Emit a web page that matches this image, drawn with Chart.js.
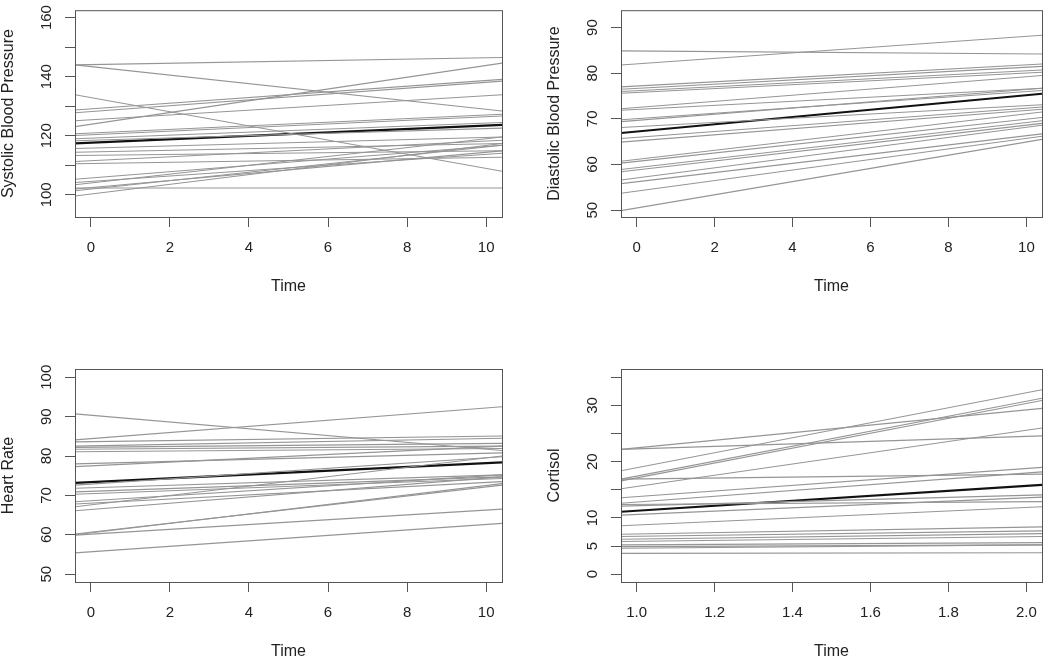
<!DOCTYPE html>
<html>
<head>
<meta charset="utf-8">
<script src="https://cdn.jsdelivr.net/npm/chart.js@4.4.1/dist/chart.umd.min.js"></script>
<style>
  html, body { margin: 0; padding: 0; background: #fff; }
  #wrap { position: relative; width: 1050px; height: 658px; }
  #wrap canvas { position: absolute; }
</style>
</head>
<body>
<div id="wrap">
  <canvas id="c1" width="525" height="329" style="left:0;top:0"></canvas>
  <canvas id="c2" width="525" height="329" style="left:525px;top:0"></canvas>
  <canvas id="c3" width="525" height="329" style="left:0;top:329px"></canvas>
  <canvas id="c4" width="525" height="329" style="left:525px;top:329px"></canvas>
</div>
<script>
// --- datos ---
// las rectas cruzan todo el panel: valores leidos en los bordes izquierdo y derecho
const timeBP = [-0.4, 10.4];
const timeCort = [0.96, 2.04];

const sbpStart = [144.0, 144.0, 133.9, 128.7, 127.8, 125.1, 123.1, 120.7, 120.1, 119.0, 118.3, 115.7, 114.4, 113.3, 111.3, 110.5, 105.3, 104.2, 103.4, 102.0, 101.4, 99.6, 102.3];
const sbpEnd   = [146.5, 128.4, 108.0, 139.1, 138.5, 133.9, 144.6, 127.3, 126.7, 124.5, 122.6, 119.6, 117.4, 114.9, 118.5, 112.7, 116.8, 114.1, 119.6, 114.9, 116.8, 117.4, 102.3];
const sbpMean  = [117.4, 123.7];

const dbpStart = [84.9, 81.8, 77.0, 76.5, 76.0, 75.6, 72.2, 71.9, 69.8, 69.4, 68.1, 65.7, 64.9, 60.7, 60.3, 58.9, 58.4, 56.6, 55.8, 53.7, 49.9];
const dbpEnd   = [84.2, 88.3, 82.0, 81.5, 80.7, 80.2, 79.5, 76.7, 76.2, 76.7, 73.1, 72.6, 72.1, 71.5, 70.3, 69.6, 69.0, 68.6, 66.7, 66.2, 65.5];
const dbpMean  = [66.9, 75.5];

const hrStart = [90.7, 84.1, 83.6, 82.5, 82.2, 81.7, 81.1, 78.0, 77.3, 72.6, 71.8, 70.9, 70.3, 68.4, 67.8, 67.1, 66.1, 60.2, 60.0, 59.9, 55.4];
const hrEnd   = [81.4, 92.5, 85.1, 84.5, 83.2, 82.5, 81.9, 80.8, 82.5, 79.8, 75.2, 74.7, 74.3, 75.2, 73.5, 80.0, 74.7, 72.6, 73.0, 66.5, 62.9];
const hrMean  = [73.2, 78.4];

const cortStart = [22.2, 22.2, 18.4, 16.9, 16.9, 16.6, 15.2, 13.6, 12.6, 12.4, 12.1, 10.5, 8.6, 7.1, 6.7, 6.2, 5.8, 5.2, 4.9, 4.6, 3.7];
const cortEnd   = [24.6, 29.5, 32.8, 17.8, 31.3, 30.9, 26.0, 19.0, 18.2, 12.9, 14.1, 13.7, 12.0, 8.4, 7.7, 7.2, 6.7, 5.6, 5.2, 5.2, 3.8];
const cortMean  = [11.1, 15.9];

// --- ticks ---
const timeTicks = [0, 2, 4, 6, 8, 10];
const cortTimeTicks = [1.0, 1.2, 1.4, 1.6, 1.8, 2.0];
const sbpTicks = [100, 110, 120, 130, 140, 150, 160];
const sbpTickLabels = [100, 120, 140, 160];
const dbpTicks = [50, 60, 70, 80, 90];
const hrTicks = [50, 60, 70, 80, 90, 100];
const cortTicks = [0, 5, 10, 15, 20, 25, 30, 35];
const cortTickLabels = [0, 5, 10, 20, 30];

const FONT = '15px "Liberation Sans", Arial, Helvetica, sans-serif';
const TITLE_FONT = '16px "Liberation Sans", Arial, Helvetica, sans-serif';
const AXIS_COLOR = '#555';

// marco, etiquetas giradas y titulos (estilo R base)
const marcoR = {
  id: 'marcoR',
  afterDraw(chart, args, o) {
    const { ctx, chartArea: a, scales } = chart;
    ctx.save();
    ctx.strokeStyle = AXIS_COLOR;
    ctx.lineWidth = 1;
    ctx.strokeRect(a.left + 0.5, a.top + 0.5, a.right - a.left, a.bottom - a.top);

    ctx.fillStyle = '#222';
    ctx.font = FONT;
    ctx.textAlign = 'center';
    ctx.textBaseline = 'middle';
    o.xLabels.forEach(v => {
      ctx.fillText(v.toFixed(o.xDecimals), scales.x.getPixelForValue(v), a.bottom + 31);
    });

    o.yLabels.forEach(v => {
      ctx.save();
      ctx.translate(a.left - 28, scales.y.getPixelForValue(v));
      ctx.rotate(-Math.PI / 2);
      ctx.fillText(String(v), 0, 0);
      ctx.restore();
    });

    ctx.font = TITLE_FONT;
    ctx.fillText(o.xTitle, (a.left + a.right) / 2, a.bottom + 70);
    ctx.save();
    ctx.translate(a.left - 66, (a.top + a.bottom) / 2);
    ctx.rotate(-Math.PI / 2);
    ctx.fillText(o.yTitle, 0, 0);
    ctx.restore();
    ctx.restore();
  }
};

function crearPanel(id, box, time, starts, ends, mean, cfg) {
  const datasets = starts.map((s, i) => ({
    data: [{ x: time[0], y: s }, { x: time[1], y: ends[i] }],
    borderColor: '#959595',
    borderWidth: 1.1,
    pointRadius: 0
  }));
  datasets.push({
    data: [{ x: time[0], y: mean[0] }, { x: time[1], y: mean[1] }],
    borderColor: '#111',
    borderWidth: 2.2,
    pointRadius: 0
  });

  const W = 525, H = 329;
  return new Chart(document.getElementById(id), {
    type: 'line',
    data: { datasets },
    plugins: [marcoR],
    options: {
      responsive: false,
      animation: false,
      layout: { padding: { left: 0, top: box.top, right: W - box.right, bottom: 0 } },
      plugins: {
        legend: { display: false },
        tooltip: { enabled: false },
        marcoR: {
          xLabels: cfg.xTicks, xDecimals: cfg.xDecimals, xTitle: 'Time',
          yLabels: cfg.yLabels, yTitle: cfg.yTitle
        }
      },
      scales: {
        x: {
          type: 'linear',
          min: cfg.xMin, max: cfg.xMax,
          afterBuildTicks: s => { s.ticks = cfg.xTicks.map(v => ({ value: v })); },
          afterFit: s => { s.height = H - box.bottom; },
          ticks: { callback: () => '' },
          grid: { drawOnChartArea: false, drawTicks: true, tickLength: 10, color: AXIS_COLOR },
          border: { display: false }
        },
        y: {
          min: cfg.yMin, max: cfg.yMax,
          afterBuildTicks: s => { s.ticks = cfg.yTicks.map(v => ({ value: v })); },
          afterFit: s => { s.width = box.left; },
          ticks: { callback: () => '' },
          grid: { drawOnChartArea: false, drawTicks: true, tickLength: 10, color: AXIS_COLOR },
          border: { display: false }
        }
      }
    }
  });
}

crearPanel('c1', { left: 75, top: 5, right: 502, bottom: 217 }, timeBP, sbpStart, sbpEnd, sbpMean, {
  xMin: -0.4, xMax: 10.4, xTicks: timeTicks, xDecimals: 0,
  yMin: 92.5, yMax: 162.5, yTicks: sbpTicks, yLabels: sbpTickLabels,
  yTitle: 'Systolic Blood Pressure'
});
crearPanel('c2', { left: 96, top: 5, right: 517, bottom: 217 }, timeBP, dbpStart, dbpEnd, dbpMean, {
  xMin: -0.4, xMax: 10.4, xTicks: timeTicks, xDecimals: 0,
  yMin: 48.5, yMax: 93.8, yTicks: dbpTicks, yLabels: dbpTicks,
  yTitle: 'Diastolic Blood Pressure'
});
crearPanel('c3', { left: 75, top: 40, right: 502, bottom: 253 }, timeBP, hrStart, hrEnd, hrMean, {
  xMin: -0.4, xMax: 10.4, xTicks: timeTicks, xDecimals: 0,
  yMin: 48.0, yMax: 102.1, yTicks: hrTicks, yLabels: hrTicks,
  yTitle: 'Heart Rate'
});
crearPanel('c4', { left: 96, top: 40, right: 517, bottom: 253 }, timeCort, cortStart, cortEnd, cortMean, {
  xMin: 0.96, xMax: 2.04, xTicks: cortTimeTicks, xDecimals: 1,
  yMin: -1.4, yMax: 36.5, yTicks: cortTicks, yLabels: cortTickLabels,
  yTitle: 'Cortisol'
});
</script>
</body>
</html>
